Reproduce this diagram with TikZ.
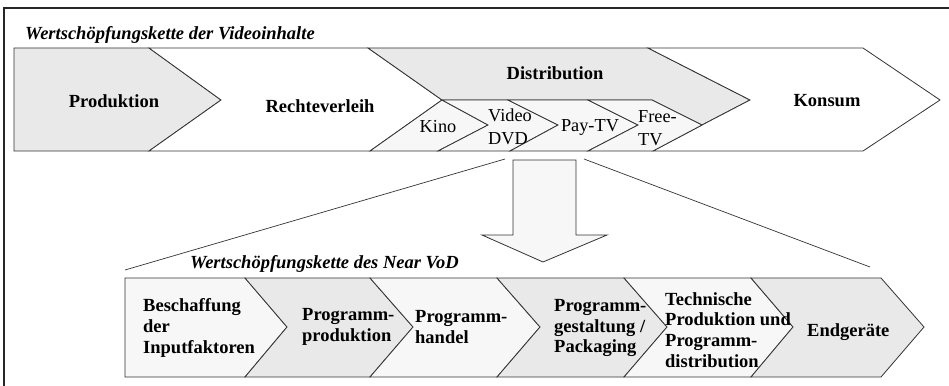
\documentclass[tikz,border=0pt]{standalone}
\usepackage{fontspec}
\setmainfont{Liberation Serif}
\definecolor{fillgrey}{HTML}{E9E9E9}
\definecolor{filllight}{HTML}{F7F7F7}
\definecolor{edge}{HTML}{333333}
\begin{document}
\begin{tikzpicture}[x=1pt,y=-1pt,
  seg/.style={draw=edge,line width=0.8pt,line join=miter},
  greyseg/.style={seg,fill=fillgrey},
  lightseg/.style={seg,fill=filllight},
  whiteseg/.style={seg,fill=white},
  bigtxt/.style={font=\fontsize{18.5}{20.5}\selectfont\bfseries,inner sep=0pt},
  smalltxt/.style={font=\fontsize{18.3}{23}\selectfont,inner sep=0pt,align=left},
  chaintxt/.style={font=\fontsize{18.5}{20.8}\selectfont\bfseries,inner sep=0pt,align=left,anchor=west},
  titletxt/.style={font=\fontsize{18.5}{20}\selectfont\bfseries\itshape,inner sep=0pt,anchor=base west}]
\useasboundingbox (0,0) rectangle (949,385);
% outer frame
\draw[line width=1.4pt,draw=black!85] (4,400) -- (4,8) -- (960,8);

% upper chain
\path[greyseg] (14,48) -- (149,48) -- (221,100) -- (149,151) -- (14,151) -- cycle;
\path[whiteseg] (149,48) -- (368,48) -- (442,100) -- (370,151) -- (149,151) -- (221,100) -- cycle;
\path[greyseg] (368,48) -- (648,48) -- (750,100) -- (702,125) -- (652,100) -- (442,100) -- cycle;
\path[whiteseg] (648,48) -- (863,48) -- (940,100) -- (863,151) -- (653,151) -- (702,125) -- (750,100) -- cycle;
\path[lightseg] (442,100) -- (488,125) -- (438,151) -- (370,151) -- cycle;
\path[lightseg] (442,100) -- (508,100) -- (558,125) -- (510,151) -- (438,151) -- (488,125) -- cycle;
\path[lightseg] (508,100) -- (588,100) -- (638,125) -- (588,151) -- (510,151) -- (558,125) -- cycle;
\path[lightseg] (588,100) -- (652,100) -- (702,125) -- (653,151) -- (588,151) -- (638,125) -- cycle;

\node[titletxt] (t1) at (25,40) {Wertschöpfungskette der Videoinhalte};
\node[bigtxt] (prod) at (114,101) {Produktion};
\node[bigtxt] (recht) at (320,106) {Rechteverleih};
\node[bigtxt] (dist) at (555,73) {Distribution};
\node[bigtxt] (kons) at (827,101) {Konsum};
\node[smalltxt] (kino) at (438,127) {Kino};
\node[smalltxt,anchor=west] (video) at (488,127) {Video\\DVD};
\node[smalltxt] (pay) at (590,127) {Pay-TV};
\node[smalltxt,anchor=west] (free) at (638,128) {Free-\\TV};

% zoom lines
\coordinate (zl1) at (505,159);
\coordinate (zl2) at (125,270);
\coordinate (zr1) at (584,159);
\coordinate (zr2) at (870,267);
\draw[draw=edge,line width=0.7pt] (zl1) -- (zl2);
\draw[draw=edge,line width=0.7pt] (zr1) -- (zr2);

% big arrow
\path[lightseg] (513,160) -- (576,160) -- (576,235) -- (607,235) -- (543,262) -- (482,235) -- (513,235) -- cycle;

% lower chain
\path[lightseg] (125,278) -- (245,278) -- (287,327) -- (245,377) -- (125,377) -- cycle;
\path[greyseg] (245,278) -- (370,278) -- (413,327) -- (370,377) -- (245,377) -- (287,327) -- cycle;
\path[lightseg] (370,278) -- (497,278) -- (540,327) -- (497,377) -- (370,377) -- (413,327) -- cycle;
\path[greyseg] (497,278) -- (624,278) -- (667,327) -- (624,377) -- (497,377) -- (540,327) -- cycle;
\path[lightseg] (624,278) -- (751,278) -- (793,327) -- (751,377) -- (624,377) -- (667,327) -- cycle;
\path[greyseg] (751,278) -- (881,278) -- (924,327) -- (881,377) -- (751,377) -- (793,327) -- cycle;

\node[titletxt] (t2) at (190,268) {Wertschöpfungskette des Near VoD};
\node[chaintxt] (c1) at (143,328) {Beschaffung\\der\\Inputfaktoren};
\node[chaintxt] (c2) at (302,327) {Programm-\\produktion};
\node[chaintxt] (c3) at (415,327) {Programm-\\handel};
\node[chaintxt] (c4) at (554,328) {Programm-\\gestaltung /\\Packaging};
\node[chaintxt] (c5) at (665,330) {Technische\\Produktion und\\Programm-\\distribution};
\node[chaintxt] (c6) at (807,332) {Endgeräte};
\end{tikzpicture}
\end{document}
